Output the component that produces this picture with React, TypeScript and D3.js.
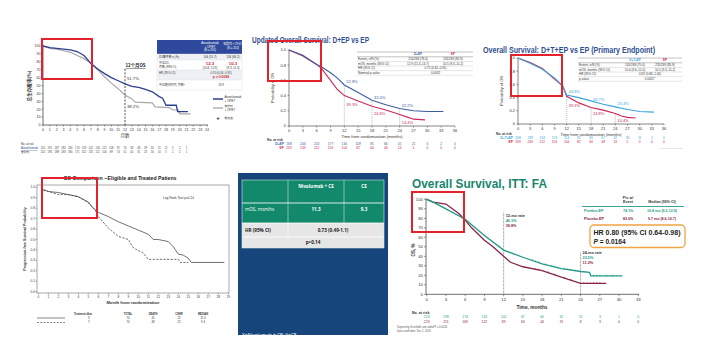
import React from 'react';
import * as d3 from 'd3';

const FONT = "'Liberation Sans', Arial, sans-serif";
const CJK = "'Noto Sans CJK SC', 'Liberation Sans', sans-serif";

// ---------- Panel A (IMpower133, Chinese) ----------
const aXTicks = d3.range(0, 25);
const aYTicks = d3.range(0, 101, 10);
const aAtezoT = [0, 1, 2, 3, 4, 5, 6, 7, 8, 9, 10, 11, 12, 13, 14, 15, 16, 17, 17.5, 18, 19.5, 19.7, 21.2];
const aAtezoV = [100, 98, 97, 96, 95, 93, 88, 78, 71, 65, 60, 56, 52, 49, 47.5, 45, 42, 36, 34, 25, 25, 17, 17];
const aPlaT = [0, 1, 2, 3, 4, 5, 6, 7, 8, 9, 10, 11, 12, 13, 13.5, 16, 16.4, 18.5, 19, 19.8, 20, 21.6];
const aPlaV = [100, 97, 96, 94, 92, 88, 84, 78, 70, 61, 53, 46, 38, 33, 29, 28, 23, 22, 19, 19, 14, 14];
const aRiskAtezo = [201, 191, 187, 182, 180, 174, 159, 142, 130, 121, 108, 92, 74, 58, 48, 39, 30, 21, 11, 5, 2, 1];
const aRiskPla = [202, 196, 188, 183, 180, 171, 152, 135, 111, 100, 89, 74, 51, 40, 31, 23, 16, 10, 5, 2, 2, 1];

// ---------- Panel B (D+EP vs EP) ----------
const bXTicks = d3.range(0, 37, 3);
const bYTicks = [0, 0.2, 0.4, 0.6, 0.8, 1.0];
const bDepT = [0, 3, 6, 7, 9, 10.5, 12, 15, 18, 21, 24, 27, 30, 33.5];
const bDepV = [1, 0.93, 0.81, 0.78, 0.7, 0.63, 0.54, 0.44, 0.34, 0.28, 0.23, 0.2, 0.19, 0.19];
const bEpT = [0, 3, 6, 7, 9, 10.5, 12, 15, 18, 21, 24, 25.5, 27, 29.5];
const bEpV = [1, 0.92, 0.81, 0.76, 0.6, 0.48, 0.4, 0.33, 0.26, 0.21, 0.15, 0.12, 0.09, 0.08];
const bRiskDep = [268, 244, 214, 177, 140, 109, 85, 66, 41, 21, 6, 2, 0];
const bRiskEp = [269, 243, 212, 156, 104, 82, 64, 48, 24, 5, 0, 0, 0];
const bRateT = [12, 12, 18, 18, 24, 24];
const bRateV = [0.57, 0.26, 0.355, 0.145, 0.255, 0.03];
const bRateLabel = ['52.8%', '39.3%', '32.0%', '24.8%', '22.2%', '14.4%'];
const bDropT = [12, 18, 24];
const bDropV = [0.53, 0.34, 0.23];

// ---------- Panel C (D+T+EP vs EP) ----------
const cDtepT = [0, 3, 6, 9, 11, 12, 15, 18, 21, 24, 27, 30, 33.5];
const cDtepV = [1, 0.92, 0.83, 0.7, 0.58, 0.44, 0.4, 0.35, 0.3, 0.26, 0.22, 0.19, 0.18];
const cEpT = [0, 3, 6, 9, 11, 12, 15, 18, 21, 24, 25.5, 27, 29];
const cEpV = [1, 0.93, 0.84, 0.68, 0.58, 0.42, 0.32, 0.25, 0.21, 0.16, 0.12, 0.1, 0.09];
const cRiskDtep = [268, 239, 203, 159, 114, 92, 80, 67, 37, 26, 11, 1, 0];
const cRiskEp = [269, 243, 212, 156, 104, 82, 64, 48, 24, 5, 0, 0, 0];
const cRateV = [0.47, 0.26, 0.35, 0.14, 0.29, 0.03];
const cRateLabel = ['43.8%', '39.3%', '33.7%', '24.8%', '23.4%', '14.4%'];
const cDropV = [0.44, 0.25, 0.16];

// ---------- Panel D (Nivolumab + CE) ----------
const dXTicks = d3.range(0, 20);
const dYTicks = d3.range(0, 11).map((i) => i / 10);
const dNivoT = [0.5, 1, 2, 3, 4, 5, 5.5, 6, 7, 8, 9, 10, 11, 11.5, 12, 13, 13.5, 14, 14.5, 15, 15.3, 18.6];
const dNivoV = [0.98, 0.96, 0.95, 0.93, 0.91, 0.86, 0.8, 0.76, 0.72, 0.67, 0.63, 0.59, 0.55, 0.5, 0.5, 0.48, 0.43, 0.36, 0.35, 0.32, 0.28, 0.28];
const dCeT = [0.5, 1, 2, 3, 4, 5, 5.7, 6, 7, 8, 9, 9.5, 10.5, 11, 14, 14.2, 15];
const dCeV = [0.97, 0.96, 0.93, 0.93, 0.91, 0.85, 0.78, 0.72, 0.61, 0.53, 0.5, 0.42, 0.37, 0.31, 0.31, 0.28, 0.28];
const dArms = ['X', 'Y'];
const dTotal = [70, 70];
const dDeath = [45, 48];
const dCnsr = [25, 22];
const dMedian = ['11.3', '9.3'];

// ---------- Panel E (table) ----------
const eHeader = ['', 'Nivolumab +  CE', 'CE'];
const eMos = ['mOS, months', '11.3', '9.3'];
const eHr = ['HR (95% CI)', '0.73 (0.49-1.1)'];
const eP = 'p=0.14';

// ---------- Panel F (Pembro-EP) ----------
const fXTicks = d3.range(0, 34, 3);
const fYTicks = d3.range(0, 101, 10);
const fPemT = [0, 1, 3, 6, 9, 12, 15, 18, 21, 24, 25.4, 25.6, 30.5];
const fPemV = [100, 97, 90, 79, 62, 46.5, 39, 32, 27, 24, 23, 19.3, 19.3];
const fPlaT = [0, 1, 2, 3, 4, 5, 6, 7, 9, 10, 11, 12, 13, 15, 18, 21, 24, 28];
const fPlaV = [100, 97, 96, 95, 90, 85, 78, 70, 57, 52, 46, 40, 34, 29, 25, 18, 11.5, 11.5];
const fPemCens = [16.5, 17, 17.5, 18.5, 19.5, 20, 20.5, 21.5, 22, 22.5, 26, 26.5, 27, 28, 29];
const fPlaCens = [17, 17.5, 19, 20, 21.5, 22.5, 24.5, 25, 25.5, 26, 26.5, 27];
const fRiskPem = [223, 198, 174, 132, 102, 67, 60, 31, 15, 3, 1, 0];
const fRiskPla = [223, 211, 169, 122, 89, 63, 44, 19, 8, 3, 0, 0];
const fDropT = [12, 24];
const fDropV = [86, 44];

type Sc = d3.ScaleLinear<number, number>;

function Curve({ x, y, t, v, color, w = 1, dash }: { x: Sc; y: Sc; t: number[]; v: number[]; color: string; w?: number; dash?: string }) {
  const line = d3.line<number>().x((_, i) => x(t[i])).y((d) => y(d)).curve(d3.curveLinear);
  return <path d={line(v) || ''} fill="none" stroke={color} strokeWidth={w} strokeDasharray={dash} />;
}

function PanelA() {
  const x = d3.scaleLinear().domain([0, 24]).range([43, 207]);
  const y = d3.scaleLinear().domain([0, 100]).range([125, 46]);
  const blue = '#2c3f8f';
  const gray = '#a8a8a8';
  return (
    <g fontFamily={FONT}>
      <line x1={43} x2={43} y1={45} y2={125} stroke="#333" strokeWidth={0.7} />
      <line x1={43} x2={208} y1={125} y2={125} stroke="#333" strokeWidth={0.7} />
      {aYTicks.map((t) => (
        <g key={t}>
          <line x1={41.5} x2={43} y1={y(t)} y2={y(t)} stroke="#333" strokeWidth={0.5} />
          <text x={40.5} y={y(t) + 1.3} fontSize={3.6} textAnchor="end" fill="#333">{t}</text>
        </g>
      ))}
      {aXTicks.map((t) => (
        <g key={t}>
          <line x1={x(t)} x2={x(t)} y1={125} y2={126.5} stroke="#333" strokeWidth={0.5} />
          <text x={x(t)} y={131} fontSize={3.6} textAnchor="middle" fill="#333">{t}</text>
        </g>
      ))}
      <text transform="translate(31,86) rotate(-90)" fontSize={4.6} fontFamily={CJK} textAnchor="middle" fontWeight="bold" fill="#333">总生存概率(%)</text>
      <text x={125} y={137} fontSize={4.4} fontFamily={CJK} textAnchor="middle" fill="#333">月数</text>
      <Curve x={x} y={y} t={aPlaT} v={aPlaV} color={gray} w={1.2} />
      <Curve x={x} y={y} t={aAtezoT} v={aAtezoV} color={blue} w={1.3} />
      <line x1={x(12)} x2={x(12)} y1={69} y2={125} stroke="#222" strokeWidth={0.8} strokeDasharray="2,1.4" />
      <text x={x(12) + 0.5} y={67} fontSize={4.4} fontFamily={CJK} fontWeight="bold" fill="#222" textDecoration="underline">12个月OS</text>
      <text x={x(12) + 2} y={80} fontSize={4.2} fill="#333">51.7%</text>
      <text x={x(12) + 2} y={108} fontSize={4.2} fill="#333">38.2%</text>
      {/* table */}
      <rect x={157} y={40} width={85} height={14} fill="#2f4a9c" />
      <text x={210} y={44} fontSize={2.9} fill="#fff" textAnchor="middle">Atezolizumab</text>
      <text x={210} y={47.5} fontSize={2.9} fill="#fff" textAnchor="middle">+ CP/ET</text>
      <text x={210} y={51} fontSize={2.9} fill="#fff" textAnchor="middle">(N = 201)</text>
      <text x={233} y={45} fontSize={2.9} fill="#fff" textAnchor="middle" fontFamily={CJK}>安慰剂 + CP/ET</text>
      <text x={233} y={48.5} fontSize={2.9} fill="#fff" textAnchor="middle">(N = 202)</text>
      <rect x={157} y={54} width={85} height={36} fill="#fff" stroke="#d5d8e0" strokeWidth={0.4} />
      <rect x={157} y={54} width={85} height={6} fill="#eef0f4" />
      <rect x={157} y={70} width={85} height={10} fill="#eef0f4" />
      {[60, 70, 80].map((yy) => <line key={yy} x1={157} x2={242} y1={yy} y2={yy} stroke="#d5d8e0" strokeWidth={0.4} />)}
      <text x={159} y={58.3} fontSize={2.9} fontFamily={CJK} fill="#333">OS事件数 n (%)</text>
      <text x={210} y={58.3} fontSize={2.9} fill="#333" textAnchor="middle">104 (51.7)</text>
      <text x={233} y={58.3} fontSize={2.9} fill="#333" textAnchor="middle">134 (66.2)</text>
      <text x={159} y={64} fontSize={2.9} fontFamily={CJK} fill="#333">中位OS,</text>
      <text x={159} y={67.5} fontSize={2.9} fontFamily={CJK} fill="#333">月数 (95% CI)</text>
      <text x={210} y={65} fontSize={4.4} fontWeight="bold" fill="#d0242c" textAnchor="middle">12.3</text>
      <text x={210} y={68.8} fontSize={2.9} fill="#333" textAnchor="middle">(10.8, 15.9)</text>
      <text x={233} y={65} fontSize={4.4} fontWeight="bold" fill="#d0242c" textAnchor="middle">10.3</text>
      <text x={233} y={68.8} fontSize={2.9} fill="#333" textAnchor="middle">(9.3, 11.3)</text>
      <text x={159} y={74} fontSize={2.9} fill="#333">HR (95% CI)</text>
      <text x={221} y={73.5} fontSize={2.9} fill="#333" textAnchor="middle">0.70 (0.54, 0.91)</text>
      <text x={221} y={77.5} fontSize={3.4} fontWeight="bold" fill="#d0242c" textAnchor="middle">p = 0.0069</text>
      <text x={159} y={86} fontSize={2.9} fontFamily={CJK} fill="#333">中位随访时间, 月数*</text>
      <text x={221} y={86} fontSize={2.9} fill="#333" textAnchor="middle">13.9</text>
      {/* legend */}
      <line x1={213} x2={223} y1={99} y2={99} stroke={blue} strokeWidth={1.5} />
      <text x={224.5} y={98.3} fontSize={2.8} fill="#333">Atezolizumab</text>
      <text x={224.5} y={101.5} fontSize={2.8} fill="#333">+ CP/ET</text>
      <line x1={213} x2={223} y1={108} y2={108} stroke={gray} strokeWidth={1.3} />
      <text x={224.5} y={107.3} fontSize={2.8} fontFamily={CJK} fill="#333">安慰剂</text>
      <text x={224.5} y={110.5} fontSize={2.8} fill="#333">+ CP/ET</text>
      <text x={218} y={119.5} fontSize={6} fontWeight="bold" textAnchor="middle" fill="#222">+</text>
      <text x={224.5} y={118.5} fontSize={2.8} fontFamily={CJK} fill="#333">删失值</text>
      {/* at risk */}
      <text x={21} y={145} fontSize={2.8} fill="#333">No. at risk</text>
      <text x={21} y={149} fontSize={2.8} fill="#2c3f8f" textDecoration="underline">Atezolizumab</text>
      <text x={21} y={153} fontSize={2.8} fontFamily={CJK} fill="#333">安慰剂</text>
      {aRiskAtezo.map((n, i) => <text key={'a' + i} x={x(i)} y={149} fontSize={2.7} textAnchor="middle" fill="#444">{n}</text>)}
      {aRiskPla.map((n, i) => <text key={'p' + i} x={x(i)} y={153} fontSize={2.7} textAnchor="middle" fill="#444">{n}</text>)}
    </g>
  );
}

function KMPanel({
  x0, x1, yTop, yBot, title, titleX, titleY, titleLen, titleColor,
  tA, vA, cA, tB, vB, cB, rateT, rateV, rateLabel, dropT, dropV, riskA, riskB, nameA, nameB, riskY,
}: any) {
  const x = d3.scaleLinear().domain([0, 36]).range([x0, x1]);
  const y = d3.scaleLinear().domain([0, 1]).range([yBot, yTop]);
  const rateColors = [cA, cB, cA, cB, cA, cB];
  return (
    <g fontFamily={FONT}>
      <text x={titleX} y={titleY} fontSize={9} fontWeight="bold" fill={titleColor} textLength={titleLen} lengthAdjust="spacingAndGlyphs">{title}</text>
      <line x1={x0} x2={x0} y1={yTop} y2={yBot} stroke="#333" strokeWidth={0.6} />
      <line x1={x0} x2={x1} y1={yBot} y2={yBot} stroke="#333" strokeWidth={0.6} />
      {bYTicks.map((t) => (
        <g key={t}>
          <line x1={x0 - 1.5} x2={x0} y1={y(t)} y2={y(t)} stroke="#333" strokeWidth={0.5} />
          <text x={x0 - 3} y={y(t) + 1.4} fontSize={4} textAnchor="end" fill="#333">{t === 0 ? '0' : t.toFixed(1)}</text>
        </g>
      ))}
      {bXTicks.map((t) => (
        <g key={t}>
          <line x1={x(t)} x2={x(t)} y1={yBot} y2={yBot + 1.5} stroke="#333" strokeWidth={0.5} />
          <text x={x(t)} y={yBot + 6} fontSize={4} textAnchor="middle" fill="#333">{t}</text>
        </g>
      ))}
      <text transform={`translate(${x0 - 15},${(yTop + yBot) / 2}) rotate(-90)`} fontSize={4} textAnchor="middle" fill="#333">Probability of OS</text>
      <text x={(x0 + x1) / 2} y={yBot + 11.5} fontSize={4} textAnchor="middle" fill="#333">Time from randomization (months)</text>
      {dropT.map((t: number, i: number) => (
        <line key={t} x1={x(t)} x2={x(t)} y1={y(dropV[i])} y2={yBot} stroke="#777" strokeWidth={0.5} strokeDasharray="1,1" />
      ))}
      <Curve x={x} y={y} t={tB} v={vB} color={cB} w={1.1} />
      <Curve x={x} y={y} t={tA} v={vA} color={cA} w={1.1} />
      {rateT.map((t: number, i: number) => (
        <text key={i} x={x(t) + 2} y={y(rateV[i])} fontSize={4} fill={rateColors[i]}>{rateLabel[i]}</text>
      ))}
      <text x={x0 - 22} y={riskY} fontSize={3.3} fontWeight="bold" fill="#333">No. at risk</text>
      <text x={x0 - 5} y={riskY + 3.8} fontSize={3.3} fontWeight="bold" fill={cA} textAnchor="end">{nameA}</text>
      <text x={x0 - 5} y={riskY + 7.6} fontSize={3.3} fontWeight="bold" fill={cB} textAnchor="end">{nameB}</text>
      {riskA.map((n: number, i: number) => <text key={'a' + i} x={x(i * 3)} y={riskY + 3.8} fontSize={3.3} textAnchor="middle" fill={cA}>{n}</text>)}
      {riskB.map((n: number, i: number) => <text key={'b' + i} x={x(i * 3)} y={riskY + 7.6} fontSize={3.3} textAnchor="middle" fill={cB}>{n}</text>)}
    </g>
  );
}

function SmallTable({ x0, x1, yTop, colA, colB, nameA, nameB, cA, cB, rows }: any) {
  const rh = 4.6;
  return (
    <g fontFamily={FONT} fontSize={3}>
      <line x1={x0} x2={x1} y1={yTop} y2={yTop} stroke="#666" strokeWidth={0.4} />
      <text x={colA} y={yTop + 3.4} textAnchor="middle" fill={cA} fontWeight="bold">{nameA}</text>
      <text x={colB} y={yTop + 3.4} textAnchor="middle" fill={cB} fontWeight="bold">{nameB}</text>
      <line x1={x0} x2={x1} y1={yTop + 4.8} y2={yTop + 4.8} stroke="#666" strokeWidth={0.4} />
      {rows.map((r: string[], i: number) => {
        const yy = yTop + 4.8 + rh * (i + 1) - 1.2;
        return (
          <g key={i}>
            <text x={x0 + 1} y={yy} fill="#333">{r[0]}</text>
            {r.length === 3 ? (
              <>
                <text x={colA} y={yy} textAnchor="middle" fill="#333">{r[1]}</text>
                <text x={colB} y={yy} textAnchor="middle" fill="#333">{r[2]}</text>
              </>
            ) : (
              <text x={(colA + colB) / 2} y={yy} textAnchor="middle" fill="#333">{r[1]}</text>
            )}
            <line x1={x0} x2={x1} y1={yTop + 4.8 + rh * (i + 1)} y2={yTop + 4.8 + rh * (i + 1)} stroke="#aaa" strokeWidth={0.3} />
          </g>
        );
      })}
    </g>
  );
}

function PanelD() {
  const x = d3.scaleLinear().domain([0, 19]).range([38.3, 228.3]);
  const y = d3.scaleLinear().domain([0, 1]).range([291.7, 187.3]);
  const cols = [83, 128, 153, 179, 203];
  return (
    <g fontFamily={FONT}>
      <text x={120} y={180} fontSize={5.4} fontWeight="bold" textAnchor="middle" fill="#222" textLength={113} lengthAdjust="spacingAndGlyphs">OS Comparison --Eligible and Treated Patiens</text>
      <rect x={37} y={185} width={192} height={108} fill="none" stroke="#555" strokeWidth={0.5} />
      {dYTicks.map((t) => (
        <g key={t}>
          <line x1={35.5} x2={37} y1={y(t)} y2={y(t)} stroke="#333" strokeWidth={0.4} />
          <text x={35} y={y(t) + 1.1} fontSize={3.2} textAnchor="end" fill="#333">{t.toFixed(1)}</text>
        </g>
      ))}
      {dXTicks.map((t) => (
        <g key={t}>
          <line x1={x(t)} x2={x(t)} y1={293} y2={294.5} stroke="#333" strokeWidth={0.4} />
          <text x={x(t)} y={298} fontSize={3.2} textAnchor="middle" fill="#333">{t}</text>
        </g>
      ))}
      <text transform="translate(25.5,239) rotate(-90)" fontSize={3.6} fontWeight="bold" textAnchor="middle" fill="#333">Progression-free Survival Probability</text>
      <text x={133} y={304} fontSize={4.2} fontWeight="bold" textAnchor="middle" fill="#333">Month from randomization</text>
      <text x={163} y={199} fontSize={3.2} fill="#333">Log Rank Test p=0.14</text>
      <Curve x={x} y={y} t={dCeT} v={dCeV} color="#333" w={0.7} dash="2.2,1.4" />
      <Curve x={x} y={y} t={dNivoT} v={dNivoV} color="#333" w={0.7} />
      <line x1={37} x2={65} y1={318} y2={318} stroke="#333" strokeWidth={0.6} />
      <line x1={37} x2={65} y1={322.5} y2={322.5} stroke="#333" strokeWidth={0.6} strokeDasharray="2,1.3" />
      {['Treatment Arm', 'TOTAL', 'DEATH', 'CNSR', 'MEDIAN'].map((h, i) => (
        <text key={h} x={cols[i]} y={315} fontSize={2.6} fontWeight="bold" textAnchor="middle" fill="#333">{h}</text>
      ))}
      {dArms.map((a, r) => (
        <g key={a} fontSize={2.8} fill="#333">
          <text x={cols[0] + 6} y={319 + r * 3.8} textAnchor="middle">{a}</text>
          <text x={cols[1]} y={319 + r * 3.8} textAnchor="middle">{dTotal[r]}</text>
          <text x={cols[2]} y={319 + r * 3.8} textAnchor="middle">{dDeath[r]}</text>
          <text x={cols[3]} y={319 + r * 3.8} textAnchor="middle">{dCnsr[r]}</text>
          <text x={cols[4]} y={319 + r * 3.8} textAnchor="middle">{dMedian[r]}</text>
        </g>
      ))}
    </g>
  );
}

function PanelE() {
  const green = '#12896a';
  const cx = [242, 288, 344, 384];
  return (
    <g fontFamily={"'Open Sans', 'Liberation Sans', sans-serif"}>
      <defs>
        <clipPath id="eclip"><rect x={238} y={173} width={150} height={162} /></clipPath>
      </defs>
      <rect x={238} y={173} width={150} height={162} fill="#16457b" />
      <g clipPath="url(#eclip)">
        <rect x={242} y={180} width={142} height={43} fill={green} />
        <rect x={242} y={223} width={142} height={25} fill="#e6e6e6" />
        {[288, 344].map((xx) => <line key={xx} x1={xx} x2={xx} y1={180} y2={223} stroke="#cfe8df" strokeWidth={0.6} />)}
        <line x1={288} x2={288} y1={223} y2={237} stroke="#fff" strokeWidth={0.6} />
        <line x1={242} x2={384} y1={203} y2={203} stroke="#d8efe6" strokeWidth={1.2} />
        <line x1={242} x2={384} y1={223} y2={223} stroke="#fff" strokeWidth={0.8} />
        <line x1={242} x2={384} y1={237} y2={237} stroke="#fff" strokeWidth={0.8} />
        <rect x={242} y={180} width={142} height={68} fill="none" stroke="#cfe8df" strokeWidth={0.6} />
        <text x={(cx[1] + cx[2]) / 2} y={188} fontSize={4.6} fontWeight="bold" fill="#fff" textAnchor="middle">{eHeader[1]}</text>
        <text x={(cx[2] + cx[3]) / 2} y={188} fontSize={4.6} fontWeight="bold" fill="#fff" textAnchor="middle">{eHeader[2]}</text>
        <text x={245} y={211} fontSize={4.6} fill="#fff">{eMos[0]}</text>
        <text x={(cx[1] + cx[2]) / 2} y={211} fontSize={4.6} fontWeight="bold" fill="#fff" textAnchor="middle">{eMos[1]}</text>
        <text x={(cx[2] + cx[3]) / 2} y={211} fontSize={4.6} fontWeight="bold" fill="#fff" textAnchor="middle">{eMos[2]}</text>
        <text x={245} y={232} fontSize={4.6} fontWeight="bold" fill="#222">{eHr[0]}</text>
        <text x={(cx[1] + cx[3]) / 2 - 3} y={232} fontSize={4.6} fontWeight="bold" fill="#222" textAnchor="middle">{eHr[1]}</text>
        <text x={313} y={244} fontSize={4.6} fontWeight="bold" fill="#222" textAnchor="middle">{eP}</text>
        <text x={242} y={336.5} fontSize={4.8} fill="#fff">X=Nivolumab + CE; Y=CE</text>
      </g>
    </g>
  );
}

function PanelF() {
  const x = d3.scaleLinear().domain([0, 33]).range([426.7, 638.3]);
  const y = d3.scaleLinear().domain([0, 100]).range([294.3, 199.3]);
  const teal = '#1f9a88';
  const maroon = '#86264a';
  const lerp = (t: number[], v: number[], q: number) => {
    const i = d3.bisectRight(t, q) - 1;
    if (i >= t.length - 1) return v[v.length - 1];
    const f = (q - t[i]) / (t[i + 1] - t[i]);
    return v[i] + f * (v[i + 1] - v[i]);
  };
  return (
    <g fontFamily={FONT}>
      <text x={412} y={188} fontSize={12} fontWeight="bold" fill="#17866c" textLength={135} lengthAdjust="spacingAndGlyphs">Overall Survival, ITT: FA</text>
      <line x1={426} x2={426} y1={198} y2={294.3} stroke="#333" strokeWidth={0.7} />
      <line x1={426} x2={639} y1={294.3} y2={294.3} stroke="#333" strokeWidth={0.7} />
      {fYTicks.map((t) => (
        <g key={t}>
          <line x1={424} x2={426} y1={y(t)} y2={y(t)} stroke="#333" strokeWidth={0.5} />
          <text x={423} y={y(t) + 1.5} fontSize={4.3} textAnchor="end" fill="#333">{t}</text>
        </g>
      ))}
      {fXTicks.map((t) => (
        <g key={t}>
          <line x1={x(t)} x2={x(t)} y1={294.3} y2={296.3} stroke="#333" strokeWidth={0.5} />
          <text x={x(t)} y={300.5} fontSize={4.3} textAnchor="middle" fill="#333">{t}</text>
        </g>
      ))}
      <text transform="translate(415,250) rotate(-90)" fontSize={4.5} fontWeight="bold" textAnchor="middle" fill="#333">OS, %</text>
      <text x={532} y={309} fontSize={4.8} fontWeight="bold" textAnchor="middle" fill="#333">Time, months</text>
      {fDropT.map((t, i) => (
        <line key={t} x1={x(t)} x2={x(t)} y1={y(fDropV[i])} y2={294.3} stroke="#888" strokeWidth={0.9} strokeDasharray="0.8,0.6" />
      ))}
      <Curve x={x} y={y} t={fPlaT} v={fPlaV} color={maroon} w={1.3} />
      <Curve x={x} y={y} t={fPemT} v={fPemV} color={teal} w={1.3} />
      {fPemCens.map((c) => {
        const yy = y(lerp(fPemT, fPemV, c));
        return <line key={'pc' + c} x1={x(c)} x2={x(c)} y1={yy - 1.5} y2={yy + 0.5} stroke={teal} strokeWidth={0.5} />;
      })}
      {fPlaCens.map((c) => {
        const yy = y(lerp(fPlaT, fPlaV, c));
        return <line key={'mc' + c} x1={x(c)} x2={x(c)} y1={yy - 1.5} y2={yy + 0.5} stroke={maroon} strokeWidth={0.5} />;
      })}
      <text x={x(12) + 2} y={217} fontSize={3.8} fontWeight="bold" fill="#333">12-mo rate</text>
      <text x={x(12) + 2} y={222} fontSize={3.8} fontWeight="bold" fill={teal}>46.1%</text>
      <text x={x(12) + 2} y={227} fontSize={3.8} fontWeight="bold" fill={maroon}>39.8%</text>
      <text x={x(24) + 2} y={254} fontSize={3.8} fontWeight="bold" fill="#333">24-mo rate</text>
      <text x={x(24) + 2} y={259} fontSize={3.8} fontWeight="bold" fill={teal}>22.5%</text>
      <text x={x(24) + 2} y={264} fontSize={3.8} fontWeight="bold" fill={maroon}>11.2%</text>
      {/* table */}
      <text x={628} y={198.5} fontSize={3.6} fontWeight="bold" textAnchor="middle" fill="#333">Pts w/</text>
      <text x={628} y={202.8} fontSize={3.6} fontWeight="bold" textAnchor="middle" fill="#333">Event</text>
      <text x={662} y={202.8} fontSize={3.6} fontWeight="bold" textAnchor="middle" fill="#333">Median (95% CI)</text>
      <line x1={582} x2={684} y1={206.5} y2={206.5} stroke="#2a9a8a" strokeWidth={0.9} />
      <text x={584} y={212} fontSize={3.6} fontWeight="bold" fill={teal}>Pembro-EP</text>
      <text x={628} y={212} fontSize={3.6} fontWeight="bold" textAnchor="middle" fill={teal}>74.1%</text>
      <text x={662} y={212} fontSize={3.6} fontWeight="bold" textAnchor="middle" fill={teal}>10.8 mo (9.2-12.9)</text>
      <text x={584} y={220} fontSize={3.6} fontWeight="bold" fill={maroon}>Placebo-EP</text>
      <text x={628} y={220} fontSize={3.6} fontWeight="bold" textAnchor="middle" fill={maroon}>83.0%</text>
      <text x={662} y={220} fontSize={3.6} fontWeight="bold" textAnchor="middle" fill={maroon}>9.7 mo (8.6-10.7)</text>
      <rect x={590} y={225} width={95} height={22.5} rx={4} fill="#fff" stroke="#f0a446" strokeWidth={1.3} />
      <text x={593.5} y={234.5} fontSize={6.6} fontWeight="bold" fill="#222" textLength={87} lengthAdjust="spacingAndGlyphs">HR 0.80 (95% CI 0.64-0.98)</text>
      <text x={593.5} y={243.5} fontSize={6.6} fontWeight="bold" fill="#222"><tspan fontStyle="italic">P</tspan> = 0.0164</text>
      {/* at risk */}
      <text x={412} y={313.5} fontSize={3.6} fontWeight="bold" fill="#333">No. at risk</text>
      {fRiskPem.map((n, i) => <text key={'t' + i} x={x(i * 3)} y={318} fontSize={3.4} textAnchor="middle" fill={teal}>{n}</text>)}
      {fRiskPla.map((n, i) => <text key={'m' + i} x={x(i * 3)} y={322.5} fontSize={3.4} textAnchor="middle" fill={maroon}>{n}</text>)}
      <text x={397} y={328} fontSize={2.6} fill="#555">Superiority threshold: one-sided P = 0.0128.</text>
      <text x={397} y={331.5} fontSize={2.6} fill="#555">Data cutoff date: Dec 2, 2019.</text>
    </g>
  );
}

export default function App() {
  const red = '#e3222b';
  return (
    <svg width={703} height={347} viewBox="0 0 703 347" style={{ position: 'absolute', left: 0, top: 0, background: '#fff' }}>
      <rect x={0} y={0} width={703} height={347} fill="#fff" />
      <PanelA />
      <rect x={243} y={25} width={237} height={140} fill="#fff" />
      <KMPanel
        x0={289} x1={455} yTop={50} yBot={126}
        title="Updated Overall Survival: D+EP vs EP" titleX={252} titleY={43} titleLen={117} titleColor="#2f4f8f"
        tA={bDepT} vA={bDepV} cA="#3b5ba3" tB={bEpT} vB={bEpV} cB="#cc2a5a"
        rateT={bRateT} rateV={bRateV} rateLabel={bRateLabel} dropT={bDropT} dropV={bDropV}
        riskA={bRiskDep} riskB={bRiskEp} nameA="D+EP" nameB="EP" riskY={141}
      />
      <SmallTable x0={357} x1={473} yTop={52} colA={418} colB={453} nameA="D+EP" nameB="EP" cA="#3b5ba3" cB="#cc2a5a"
        rows={[['Events, n/N (%)', '210/268 (78.4)', '231/269 (85.9)'], ['mOS, months (95% CI)', '12.9 (11.3–14.7)', '10.5 (9.3–11.2)'], ['HR (95% CI)', '0.75 (0.62–0.91)'], ['Nominal p-value', '0.0032']]} />
      <KMPanel
        x0={518} x1={664} yTop={58} yBot={124}
        title="Overall Survival: D+T+EP vs EP (Primary Endpoint)" titleX={483} titleY={53} titleLen={172} titleColor="#2f4f8f"
        tA={cDtepT} vA={cDtepV} cA="#3aa5dc" tB={cEpT} vB={cEpV} cB="#c8284f"
        rateT={bRateT} rateV={cRateV} rateLabel={cRateLabel} dropT={bDropT} dropV={cDropV}
        riskA={cRiskDtep} riskB={cRiskEp} nameA="D+T+EP" nameB="EP" riskY={135}
      />
      <SmallTable x0={578} x1={682} yTop={58} colA={635} colB={665} nameA="D+T+EP" nameB="EP" cA="#3aa5dc" cB="#c8284f"
        rows={[['Events, n/N (%)', '201/268 (75.0)', '231/269 (85.9)'], ['mOS, months (95% CI)', '10.4 (9.6–12.0)', '10.5 (9.3–11.2)'], ['HR (95% CI)', '0.82 (0.68–1.00)'], ['p-value', '0.0451*']]} />
      <text x={660} y={149} fontSize={2} fill="#aaa">*Not statistically significant</text>
      <PanelD />
      <PanelE />
      <PanelF />
      {/* red highlight boxes */}
      <rect x={42} y={39} width={50} height={40} fill="none" stroke={red} strokeWidth={2} />
      <rect x={268} y={41} width={53} height={40} fill="none" stroke={red} strokeWidth={2} />
      <rect x={511} y={55} width={51} height={41} fill="none" stroke={red} strokeWidth={2} />
      <rect x={42} y={178} width={55} height={40} fill="none" stroke={red} strokeWidth={2} />
      <rect x={412} y={192} width={52} height={40} fill="none" stroke={red} strokeWidth={2} />
    </svg>
  );
}
